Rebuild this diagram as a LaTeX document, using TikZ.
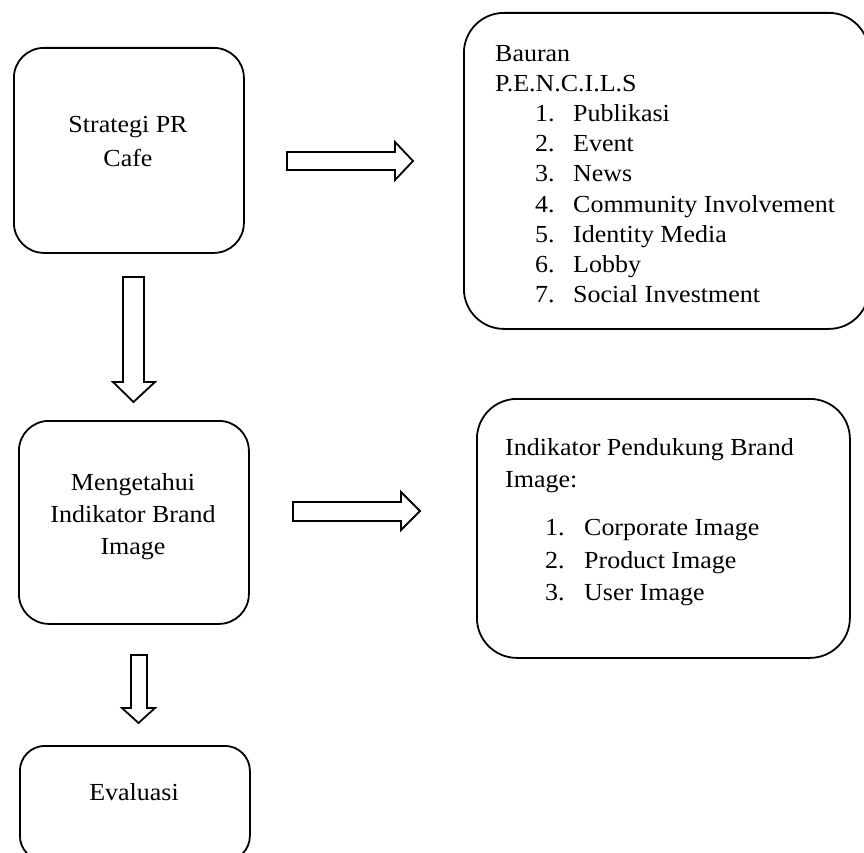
\documentclass[tikz,border=0pt]{standalone}
\usepackage{fontspec}
\setmainfont{Liberation Serif}[FakeStretch=1.06]
\begin{document}
\begin{tikzpicture}[x=1pt,y=-1pt]
\tikzset{
  box/.style={draw, line width=1.8pt, rounded corners=#1, inner sep=0pt, anchor=north west},
  box/.default=30pt,
  lbl/.style={font=\fontsize{24.5}{30}\selectfont, inner sep=0pt},
  blockarrow/.style={draw, line width=1.8pt, line join=miter, fill=white}
}
\useasboundingbox (0,0) rectangle (864,853);
% boxes
\node[box=30pt, minimum width=230pt, minimum height=205pt] (b1) at (13,47) {};
\node[box=40pt, minimum width=405pt, minimum height=316pt] (b2) at (463,12) {};
\node[box=30pt, minimum width=230pt, minimum height=203pt] (b3) at (18,420) {};
\node[box=25pt, minimum width=230pt, minimum height=115pt] (b4) at (19,745) {};
\node[box=40pt, minimum width=373pt, minimum height=259pt] (b5) at (476,398) {};
% texts
\node[lbl, anchor=base] (s1) at (128,133) {Strategi PR};
\node[lbl, anchor=base] (s2) at (128,167) {Cafe};
\node[lbl, anchor=base] (m1) at (133,490) {Mengetahui};
\node[lbl, anchor=base] (m2) at (133,522) {Indikator Brand};
\node[lbl, anchor=base] (m3) at (133,554) {Image};
\node[lbl, anchor=base] (e1) at (134,800) {Evaluasi};
\node[lbl, anchor=base west] (p1) at (495,62) {Bauran};
\node[lbl, anchor=base west] (p2) at (495,92) {P.E.N.C.I.L.S};
\foreach \n/\t [count=\k from 0] in {1/Publikasi,2/Event,3/News,4/Community Involvement,5/Identity Media,6/Lobby,7/Social Investment}
  \node[lbl, anchor=base west] (pi\n) at (535,122+30*\k) {\makebox[38pt][l]{\n.}\t};
\node[lbl, anchor=base west] (i1) at (505,455) {Indikator Pendukung Brand};
\node[lbl, anchor=base west] (i2) at (505,487) {Image:};
\node[lbl, anchor=base west] (ii1) at (545,535) {\makebox[39pt][l]{1.}Corporate Image};
\node[lbl, anchor=base west] (ii2) at (545,568) {\makebox[39pt][l]{2.}Product Image};
\node[lbl, anchor=base west] (ii3) at (545,600) {\makebox[39pt][l]{3.}User Image};
% block arrows
\draw[blockarrow] (287,152) -- (395,152) -- (395,142) -- (413,161) -- (395,180) -- (395,170) -- (287,170) -- cycle;
\draw[blockarrow] (293,502) -- (401,502) -- (401,492) -- (420,511) -- (401,530) -- (401,521) -- (293,521) -- cycle;
\draw[blockarrow] (123,277) -- (144,277) -- (144,382) -- (155,382) -- (133.5,402) -- (113,382) -- (123,382) -- cycle;
\draw[blockarrow] (131,655) -- (147,655) -- (147,708) -- (155,708) -- (138.5,723) -- (122,708) -- (131,708) -- cycle;
\end{tikzpicture}
\end{document}
